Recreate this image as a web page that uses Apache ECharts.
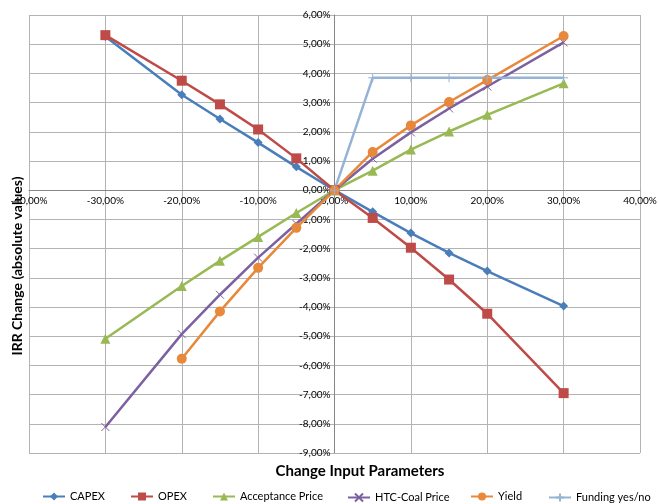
<!DOCTYPE html>
<html>
<head>
<meta charset="utf-8">
<script src="https://cdn.jsdelivr.net/npm/echarts@6/dist/echarts.min.js"></script>
<style>
  html, body { margin: 0; padding: 0; background: #fff; }
  #chart { width: 658px; height: 504px; }
</style>
</head>
<body>
<div id="chart"></div>
<script>
// Change of each input parameter (%)
const changeInput = [-30, -20, -15, -10, -5, 0, 5, 10, 15, 20, 30];

// IRR change (absolute values, %) per parameter
const capex      = [5.26, 3.27, 2.44, 1.63, 0.80, 0, -0.74, -1.47, -2.15, -2.77, -3.97];
const opex       = [5.31, 3.75, 2.94, 2.08, 1.09, 0, -0.95, -1.97, -3.06, -4.23, -6.95];
const acceptance = [-5.09, -3.28, -2.42, -1.60, -0.78, 0, 0.67, 1.39, 2.01, 2.58, 3.66];
const htcCoal    = [-8.11, -4.93, -3.58, -2.31, -1.15, 0, 1.08, 1.98, 2.80, 3.55, 5.06];
const yieldVals  = [null, -5.77, -4.15, -2.66, -1.29, 0, 1.31, 2.22, 3.02, 3.77, 5.28];
const funding    = [null, null, null, null, null, 0, 3.85, 3.85, 3.85, 3.85, 3.85];

const seriesNames = ['CAPEX', 'OPEX', 'Acceptance Price', 'HTC-Coal Price', 'Yield', 'Funding yes/no'];

// Axis ranges
const X_MIN = -40, X_MAX = 40, X_STEP = 10;
const Y_MIN = -9, Y_MAX = 6, Y_STEP = 1;

const FONT = 'Lato, "Liberation Sans", sans-serif';

// Plot box
const W = 658, H = 504;
const GRID = { left: 29, right: 18, top: 15, bottom: 51 };
const plotW = W - GRID.left - GRID.right;
const plotH = H - GRID.top - GRID.bottom;
// Shift both axes so they cross at the origin
const yAxisShift = plotW * (0 - X_MIN) / (X_MAX - X_MIN);
const xAxisShift = plotH * (0 - Y_MIN) / (Y_MAX - Y_MIN);

// Left edge of each legend entry along the bottom row
const legendLeft = [42, 130, 212, 347, 470, 548];

const pct = v => v.toFixed(2).replace('.', ',') + '%';
const pairs = arr => changeInput.map((x, i) => arr[i] == null ? null : [x, arr[i]]).filter(p => p);

const X_MARK = 'path://M0,0L10,10M10,0L0,10';
const PLUS_MARK = 'path://M5,0L5,10M0,5L10,5';

function lineSeries(name, data, color, symbol, size, extra) {
  return Object.assign({
    name: name,
    type: 'line',
    data: pairs(data),
    symbol: symbol,
    symbolSize: size,
    showAllSymbol: true,
    lineStyle: { color: color, width: 2.5 },
    itemStyle: { color: color, borderColor: color, borderWidth: 0 },
    emphasis: { disabled: true },
    animation: false
  }, extra || {});
}

const chart = echarts.init(document.getElementById('chart'), null, { renderer: 'canvas' });

chart.setOption({
  backgroundColor: '#ffffff',
  animation: false,
  textStyle: { fontFamily: FONT },
  grid: Object.assign({ containLabel: false, outerBoundsMode: 'none' }, GRID),
  legend: seriesNames.map((name, i) => ({
    data: [name],
    left: legendLeft[i],
    top: 491,
    padding: 0,
    itemWidth: 22,
    itemHeight: 10,
    textStyle: { fontFamily: FONT, fontSize: 11, color: '#000' }
  })),
  xAxis: {
    type: 'value',
    min: X_MIN, max: X_MAX, interval: X_STEP,
    position: 'bottom',
    offset: -xAxisShift,
    axisLine: { onZero: false, lineStyle: { color: '#868686', width: 1 } },
    axisTick: { show: false },
    axisLabel: { formatter: pct, color: '#000', fontSize: 10, fontFamily: FONT, margin: 6 },
    splitLine: { show: true, lineStyle: { color: '#b3b3b3', width: 1 } }
  },
  yAxis: {
    type: 'value',
    min: Y_MIN, max: Y_MAX, interval: Y_STEP,
    position: 'left',
    offset: -yAxisShift,
    axisLine: { onZero: false, lineStyle: { color: '#868686', width: 1 } },
    axisTick: { show: false },
    axisLabel: { formatter: pct, color: '#000', fontSize: 10, fontFamily: FONT, margin: 4 },
    splitLine: { show: true, lineStyle: { color: '#b3b3b3', width: 1 } }
  },
  graphic: [
    {
      type: 'text',
      x: 360, y: 471,
      style: {
        text: 'Change Input Parameters',
        fontFamily: FONT, fontWeight: 'bold', fontSize: 15,
        fill: '#000', align: 'center', verticalAlign: 'middle'
      }
    },
    {
      type: 'text',
      x: 17, y: 266,
      rotation: Math.PI / 2,
      style: {
        text: 'IRR Change (absolute values)',
        fontFamily: FONT, fontWeight: 'bold', fontSize: 14,
        fill: '#000', align: 'center', verticalAlign: 'middle'
      }
    }
  ],
  series: [
    lineSeries('CAPEX', capex, '#4a7ebb', 'diamond', 9),
    lineSeries('OPEX', opex, '#be4b48', 'rect', 10),
    lineSeries('Acceptance Price', acceptance, '#98b954', 'triangle', 10),
    lineSeries('HTC-Coal Price', htcCoal, '#7d60a0', X_MARK, 8,
      { itemStyle: { color: 'none', borderColor: '#7d60a0', borderWidth: 1 } }),
    lineSeries('Yield', yieldVals, '#e8883a', 'circle', 10),
    lineSeries('Funding yes/no', funding, '#95b3d7', PLUS_MARK, 9,
      { itemStyle: { color: 'none', borderColor: '#95b3d7', borderWidth: 1 } })
  ]
});
</script>
</body>
</html>
